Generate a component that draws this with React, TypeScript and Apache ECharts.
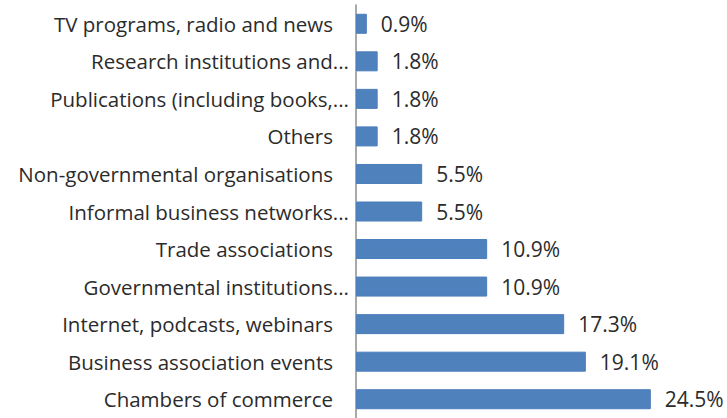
import React, { useEffect, useRef } from "react";
import * as echarts from "echarts";

const categories = [
  "Chambers of commerce",
  "Business association events",
  "Internet, podcasts, webinars",
  "Governmental institutions...",
  "Trade associations",
  "Informal business networks...",
  "Non-governmental organisations",
  "Others",
  "Publications (including books,...",
  "Research institutions and...",
  "TV programs, radio and news",
];
const values = [24.5, 19.1, 17.3, 10.9, 10.9, 5.5, 5.5, 1.8, 1.8, 1.8, 0.9];

export default function App() {
  const ref = useRef<HTMLDivElement>(null);
  useEffect(() => {
    document.body.style.margin = "0";
    const chart = echarts.init(ref.current!, null, { renderer: "svg" });
    const font = "'Open Sans', Lato, sans-serif";
    chart.setOption({
      animation: false,
      grid: { left: 356, right: 10, top: 5, bottom: -5, containLabel: false },
      xAxis: {
        type: "value",
        min: 0,
        max: 30,
        show: false,
      },
      yAxis: {
        type: "category",
        data: categories,
        axisLine: { show: true, lineStyle: { color: "#8c8c8c", width: 1.5 } },
        axisTick: { show: false },
        axisLabel: {
          margin: 7,
          formatter: (v: string) =>
            v.endsWith("...") ? `{a|${v}}` : `{a|${v}}{s|}`,
          rich: {
            a: { fontFamily: font, fontSize: 20.5, color: "#2b2b2b" },
            s: { width: 16 },
          },
        },
      },
      series: [
        {
          type: "bar",
          data: values,
          barWidth: 20,
          itemStyle: { color: "#4F81BD", borderColor: "#4A7EBB", borderWidth: 1 },
          label: {
            show: true,
            position: "right",
            distance: 14,
            formatter: (p: any) => p.value.toFixed(1) + "%",
            fontFamily: font,
            fontSize: 21,
            color: "#2b2b2b",
          },
        },
      ],
    });
    return () => chart.dispose();
  }, []);
  return <div ref={ref} style={{ width: 727, height: 418 }} />;
}
